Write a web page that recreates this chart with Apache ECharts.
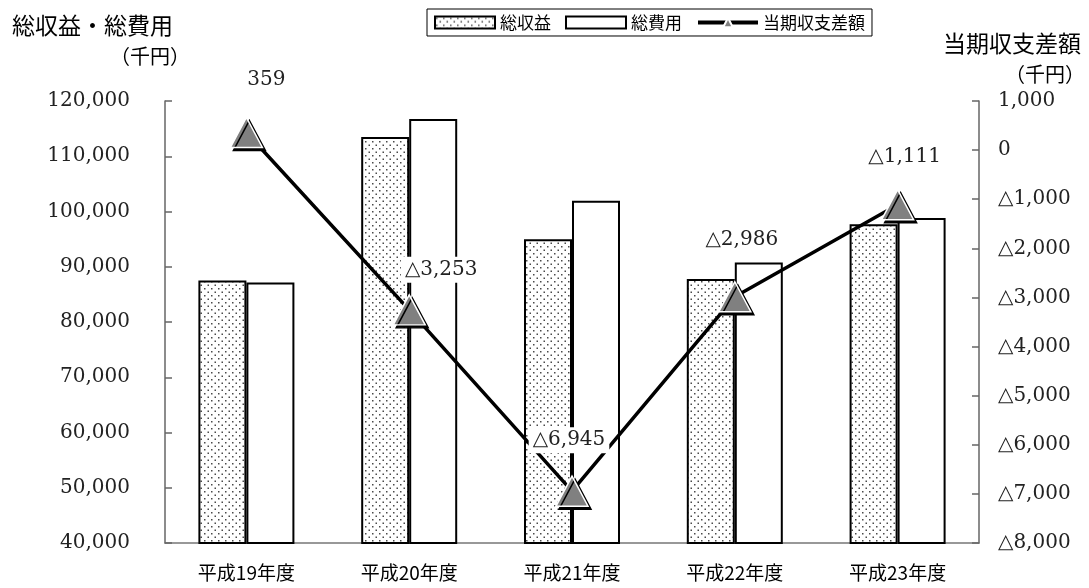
<!DOCTYPE html>
<html>
<head>
<meta charset="utf-8">
<script src="https://cdn.jsdelivr.net/npm/echarts@6/dist/echarts.min.js"></script>
<style>
  html, body { margin: 0; padding: 0; background: #fff; }
  #chart { width: 1089px; height: 588px; }
</style>
</head>
<body>
<div id="chart"></div>
<script>
// Fiscal years
const categories = ['平成19年度', '平成20年度', '平成21年度', '平成22年度', '平成23年度'];
// Total revenue (thousand yen)
const revenue = [87500, 113480, 95000, 87800, 97700];
// Total expenses (thousand yen)
const expenses = [87141, 116733, 101945, 90786, 98811];
// Balance for the period (thousand yen)
const balance = [359, -3253, -6945, -2986, -1111];

// Left axis ticks / right axis ticks
const leftAxisRange = { min: 40000, max: 120000, interval: 10000 };
const rightAxisRange = { min: -8000, max: 1000, interval: 1000 };

// Label nudges for the balance values (pixels)
const labelShift = [[20, -53], [32, -40], [-3, -51], [7, -57], [7, -48]];

const NUM_FONT = '"DejaVu Serif", "Liberation Serif", "Noto Sans CJK JP", serif';
const JP_FONT = '"Noto Sans CJK JP", "Noto Sans", sans-serif';

function fmt(v) {
  const s = Math.abs(v).toLocaleString('en-US');
  return v < 0 ? '△' + s : s;
}

// Dotted fill for the revenue bars
const dots = document.createElement('canvas');
dots.width = 7; dots.height = 7;
(function () {
  const c = dots.getContext('2d');
  c.fillStyle = '#ffffff';
  c.fillRect(0, 0, 7, 7);
  c.fillStyle = '#4a4a4a';
  c.fillRect(1, 1, 1.5, 1.5);
  c.fillRect(4.5, 4.5, 1.5, 1.5);
})();

const chart = echarts.init(document.getElementById('chart'), null, { renderer: 'canvas' });

const balanceData = balance.map((v, i) => ({
  value: v,
  label: { offset: labelShift[i] }
}));

chart.setOption({
  animation: false,
  backgroundColor: '#ffffff',
  grid: { left: 165, right: 110, top: 101, bottom: 45 },
  legend: {
    left: 427, top: 9,
    padding: [5, 7],
    itemGap: 14,
    itemWidth: 60, itemHeight: 12,
    borderColor: '#000', borderWidth: 1,
    textStyle: { fontFamily: JP_FONT, fontSize: 17, color: '#000' },
    data: [
      { name: '総収益', icon: 'rect' },
      { name: '総費用', icon: 'rect' },
      { name: '当期収支差額', lineStyle: { width: 4, color: '#000' } }
    ]
  },
  graphic: [
    { type: 'text', left: 12, top: 14, style: { text: '総収益・総費用', font: '23px ' + JP_FONT, fill: '#000' } },
    { type: 'text', left: 110, top: 46, style: { text: '（千円）', font: '20px ' + JP_FONT, fill: '#000' } },
    { type: 'text', right: 8, top: 32, style: { text: '当期収支差額', font: '23px ' + JP_FONT, fill: '#000' } },
    { type: 'text', right: 4, top: 64, style: { text: '（千円）', font: '20px ' + JP_FONT, fill: '#000' } }
  ],
  xAxis: {
    type: 'category',
    data: categories,
    axisLine: { onZero: false, lineStyle: { color: '#777', width: 1.5 } },
    axisTick: { show: false },
    axisLabel: { fontFamily: JP_FONT, fontSize: 19, color: '#000', margin: 20 }
  },
  yAxis: [
    {
      type: 'value',
      min: leftAxisRange.min, max: leftAxisRange.max, interval: leftAxisRange.interval,
      splitLine: { show: false },
      axisLine: { show: true, lineStyle: { color: '#666', width: 1.5 } },
      axisTick: { show: true, inside: true, length: 7, lineStyle: { color: '#666', width: 1.5 } },
      axisLabel: { fontFamily: NUM_FONT, fontSize: 20, color: '#222', margin: 35, formatter: fmt }
    },
    {
      type: 'value',
      min: rightAxisRange.min, max: rightAxisRange.max, interval: rightAxisRange.interval,
      splitLine: { show: false },
      axisLine: { show: true, lineStyle: { color: '#666', width: 1.5 } },
      axisTick: { show: true, inside: true, length: 7, lineStyle: { color: '#666', width: 1.5 } },
      axisLabel: { fontFamily: NUM_FONT, fontSize: 20, color: '#222', margin: 19, formatter: fmt }
    }
  ],
  series: [
    {
      name: '総収益',
      type: 'bar',
      yAxisIndex: 0,
      barWidth: 48,
      barGap: '0%',
      data: revenue,
      itemStyle: { color: { image: dots, repeat: 'repeat' }, borderColor: '#000', borderWidth: 2 }
    },
    {
      name: '総費用',
      type: 'bar',
      yAxisIndex: 0,
      barWidth: 48,
      barGap: '0%',
      data: expenses,
      itemStyle: { color: '#fff', borderColor: '#000', borderWidth: 2 }
    },
    {
      name: '当期収支差額',
      type: 'line',
      yAxisIndex: 1,
      z: 5,
      data: balanceData,
      symbol: 'triangle',
      symbolSize: [32, 30],
      lineStyle: { color: '#000', width: 3.5 },
      itemStyle: {
        color: '#808080', borderColor: '#fff', borderWidth: 1.5,
        shadowColor: '#000', shadowBlur: 0, shadowOffsetX: 3, shadowOffsetY: 3
      },
      label: {
        show: true,
        position: 'inside',
        formatter: p => fmt(p.value),
        fontFamily: NUM_FONT, fontSize: 20, color: '#222',
        backgroundColor: '#fff', padding: [3, 4]
      }
    }
  ]
});
</script>
</body>
</html>
